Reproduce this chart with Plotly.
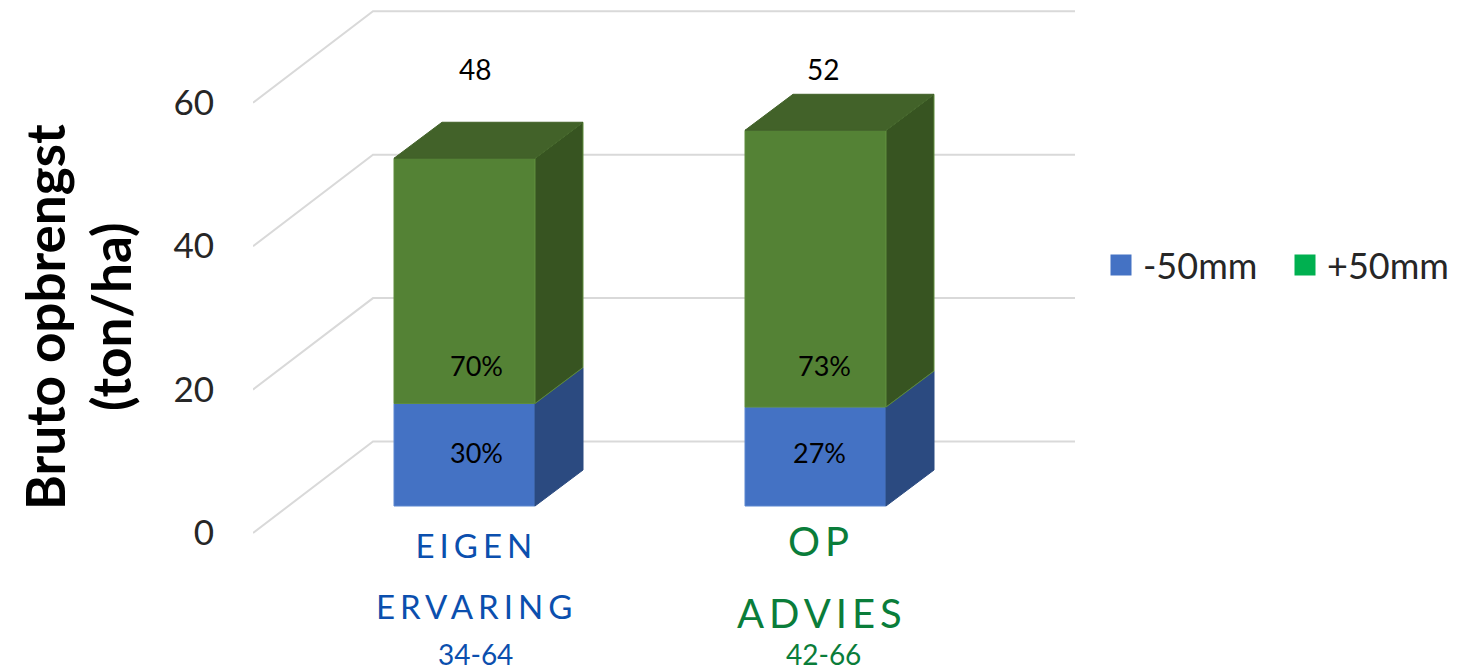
import plotly.graph_objects as go

# ---- data ----
categories = ["EIGEN ERVARING", "OP ADVIES"]
series_names = ["-50mm", "+50mm"]
low_values = [14.3, 13.8]      # -50mm
high_values = [34.2, 38.6]     # +50mm
totals = ["48", "52"]
low_share = ["30%", "27%"]
high_share = ["70%", "73%"]
ranges = ["34-64", "42-66"]
y_ticks = [0, 20, 40, 60]

# ---- geometry / style ----
W, H = 1458, 670
PX_PER_UNIT = 7.17
Y0_PX = 533
FONT = "Lato"
BLUE, BLUE_SIDE = "#4472C4", "#2B4A80"
GREEN, GREEN_SIDE, GREEN_TOP = "#548235", "#375421", "#426229"
GREEN_EDGE = "#5E8C3C"
LEGEND_GREEN = "#00B050"
GRID = "#D9D9D9"
TEXT_BLUE, TEXT_GREEN = "#0B4FAE", "#0A7D3A"

def y_of(px):
    return (Y0_PX - px) / PX_PER_UNIT

bar_left = [394, 745]
bar_w = 141
floor = y_of(506)
dx, dy = 48, 36 / PX_PER_UNIT
wall_dx, wall_dy = 120, 91.5 / PX_PER_UNIT
AX_LEFT, AX_RIGHT = 253, 1075

fig = go.Figure()

centers = [l + bar_w / 2 for l in bar_left]
fig.add_trace(go.Bar(x=centers, y=low_values, base=[floor] * 2, width=bar_w, name=series_names[0],
                     marker=dict(color=BLUE, line=dict(color="#5B86CF", width=1)), showlegend=False))
fig.add_trace(go.Bar(x=centers, y=high_values, base=[floor + v for v in low_values], width=bar_w,
                     name=series_names[1], marker=dict(color=GREEN, line=dict(color=GREEN_EDGE, width=1)),
                     showlegend=False))

def poly(xs, ys, fill, edge):
    fig.add_trace(go.Scatter(x=xs, y=ys, mode="lines", fill="toself", fillcolor=fill,
                             line=dict(color=edge, width=1), hoverinfo="skip", showlegend=False))

for l, lo, hi in zip(bar_left, low_values, high_values):
    r = l + bar_w
    y1, y2 = floor + lo, floor + lo + hi
    poly([r, r + dx, r + dx, r, r], [floor, floor + dy, y1 + dy, y1, floor], BLUE_SIDE, BLUE_SIDE)
    poly([r, r + dx, r + dx, r, r], [y1, y1 + dy, y2 + dy, y2, y1], GREEN_SIDE, GREEN_EDGE)
    poly([l, l + dx, r + dx, r, l], [y2, y2 + dy, y2 + dy, y2, y2], GREEN_TOP, GREEN_TOP)

# legend entries
for name, col in zip(series_names, [BLUE, LEGEND_GREEN]):
    fig.add_trace(go.Scatter(x=[None], y=[None], mode="markers", name=name,
                             marker=dict(symbol="square", size=16, color=col, line=dict(color=col, width=5))))

# floor-to-wall gridlines
shapes = []
for t in y_ticks:
    path = (f"M {AX_LEFT} {t} L {AX_LEFT + wall_dx} {t + wall_dy} L {AX_RIGHT} {t + wall_dy}")
    shapes.append(dict(type="path", path=path, xref="x", yref="y", layer="below",
                       line=dict(color=GRID, width=2)))

def note(text, x, px, size, color="#000000", **kw):
    return dict(text=text, x=x, y=y_of(px), xref="x", yref="y", showarrow=False, xanchor="center",
                yanchor="middle", font=dict(family=FONT, size=size, color=color, **kw))

anns = []
anns.append(note(totals[0], 475, 69, 28))
anns.append(note(totals[1], 823, 69, 28))
for i, off in enumerate([476, 824]):
    anns.append(note(high_share[i], off, 365, 27))
anns.append(note(low_share[0], 476, 452, 27))
anns.append(note(low_share[1], 819, 452, 27))

anns.append(note("EIGEN", 476, 545, 33, TEXT_BLUE))
anns.append(note("ERVARING", 476, 606, 33, TEXT_BLUE))
anns.append(note(ranges[0], 475, 654, 28, TEXT_BLUE))
anns.append(note("OP", 821, 541, 40, TEXT_GREEN))
anns.append(note("ADVIES", 822, 613, 40, TEXT_GREEN))
anns.append(note(ranges[1], 823, 654, 28, TEXT_GREEN))

for txt, x in [("Bruto opbrengst", 44), ("(ton/ha)", 110)]:
    a = dict(text=f"<b>{txt}</b>", x=x / W, xref="paper", y=1 - 317 / H, yref="paper", textangle=-90,
             showarrow=False, xanchor="center", yanchor="middle",
             font=dict(family=FONT, size=53, color="#000000"))
    anns.append(a)

fig.update_layout(
    width=W, height=H, margin=dict(l=0, r=0, t=0, b=0, autoexpand=False), paper_bgcolor="white", plot_bgcolor="white",
    barmode="overlay", shapes=shapes, annotations=anns,
    font=dict(family=FONT, color="#262626"),
    xaxis=dict(domain=[AX_LEFT / W, 1], range=[AX_LEFT, W], visible=False),
    yaxis=dict(domain=[0, 1], range=[y_of(H), y_of(0)], tickvals=y_ticks, showgrid=False, zeroline=False,
               showline=False, ticks="", ticklabelstandoff=38, automargin=False,
               tickfont=dict(family=FONT, size=35, color="#262626")),
    legend=dict(orientation="h", x=1099 / W, xanchor="left", y=1 - 265 / H, yanchor="middle",
                font=dict(family=FONT, size=36, color="#262626"), itemwidth=34, bgcolor="rgba(0,0,0,0)",
                traceorder="normal", entrywidth=135, entrywidthmode="pixels"),
)

post = """
document.body.style.margin='0';
var spaced={'EIGEN':'5px','ERVARING':'5px','OP':'5px','ADVIES':'5px'};
document.querySelectorAll('.annotation-text').forEach(function(t){
  if(spaced[t.textContent]) t.style.letterSpacing=spaced[t.textContent];
});
"""
fig.write_html("out.html", post_script=post, config={"displayModeBar": False})
